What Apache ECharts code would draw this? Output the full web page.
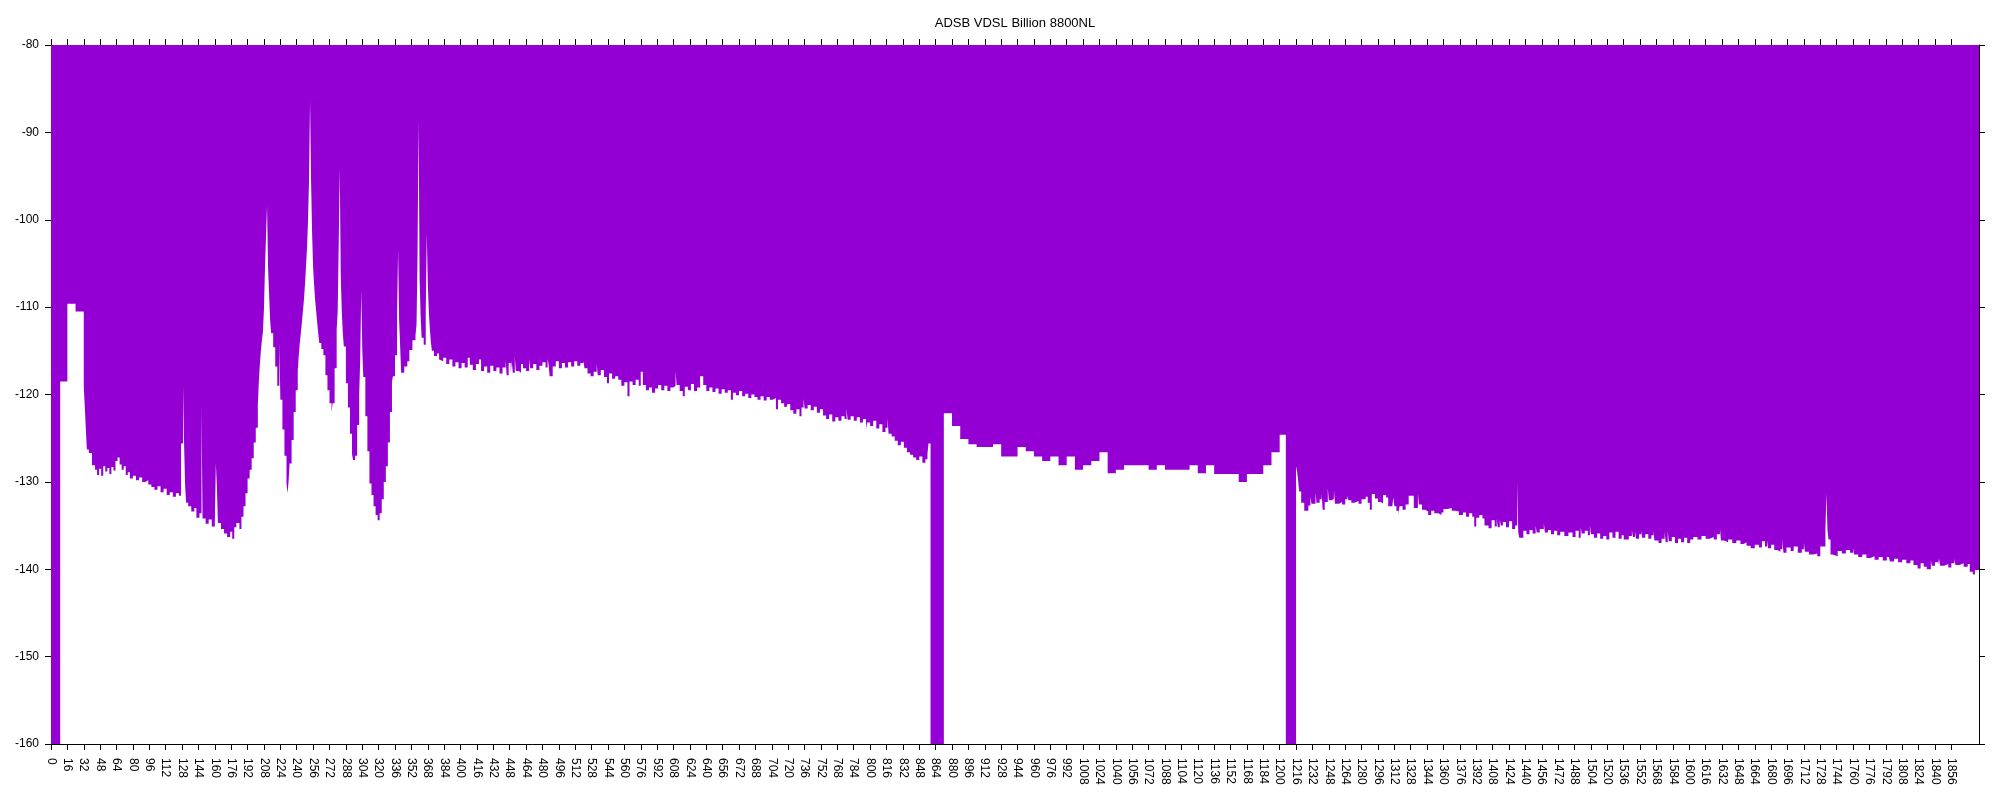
<!DOCTYPE html>
<html>
<head>
<meta charset="utf-8">
<script src="https://cdn.jsdelivr.net/npm/echarts@6/dist/echarts.min.js"></script>
<style>
html,body{margin:0;padding:0;background:#fff;}
#chart{width:2000px;height:800px;}
</style>
</head>
<body>
<div id="chart"></div>
<script>
// ---- Data: [tone bin where the level starts, level in dB] ----
const chartTitle = 'ADSB VDSL Billion 8800NL';

const lowBand = [
 [0,-160],[9,-118.5],[16,-109.6],[24,-110.5],[32,-119.1],[33,-121.4],[34,-123.9],[35,-126.3],[37,-126.7],[40,-128.1],
 [43,-128.6],[45,-129.2],[47,-128.5],[49,-129.3],[51,-128.2],[53,-128.8],[55,-128.4],[57,-129.1],[59,-128.3],[61,-128.7],
 [63,-127.6],[65,-127.2],[67,-128.0],[69,-128.6],[71,-128.2],[73,-129.2],[75,-128.9],[77,-129.6],[80,-129.3],[83,-129.8],
 [86,-129.5],[89,-130.0],[92,-129.8],[95,-130.3],[98,-130.6],[101,-130.9],[104,-130.5],[107,-131.2],[110,-130.8],[113,-131.5],
 [116,-131.2],[119,-131.7],[122,-131.3],[125,-131.6],[127,-125.6],[129,-119.1],[130,-125.8],[131,-130.5],[132,-132.4],[134,-132.8],
 [137,-133.4],[140,-133.0],[142,-134.1],[145,-133.6],[147,-121.4],[148,-134.2],[151,-134.8],[154,-134.3],[157,-135.1],[160,-134.8],
 [161,-127.9],[162,-130.5],[163,-134.7],[166,-135.4],[169,-135.9],[172,-136.3],[175,-135.7],[177,-136.5],[179,-135.2],[181,-134.7],
 [184,-135.4],[186,-134.0],[188,-132.8],[190,-131.3],[192,-129.6],[194,-128.6],[196,-127.3],[198,-125.5],[200,-123.8],[202,-121.2],
 [203,-118.5],[204,-116.5],[205,-115.0],[206,-113.8],[207,-112.8],[208,-110.2],[209,-105.5],[210,-101.9],[211,-98.4],[212,-105.5],
 [213,-108.5],[214,-111.5],[215,-113.0],[217,-114.6],[219,-116.8],[221,-119.0],[223,-113.9],[224,-120.6],[226,-124.0],[228,-127.0],
 [230,-130.2],[231,-131.3],[232,-130.0],[233,-127.9],[235,-125.2],[237,-122.0],[239,-119.5],[241,-117.3],[242,-115.5],[243,-114.1],
 [244,-113.0],[245,-111.8],[246,-110.5],[247,-109.2],[248,-107.5],[249,-105.5],[250,-103.3],[251,-100.2],[252,-95.6],[253,-86.4],
 [254,-95.6],[255,-101.5],[256,-105.5],[257,-107.5],[258,-109.2],[259,-110.5],[260,-111.8],[261,-113.0],[262,-114.1],[264,-114.8],
 [266,-115.5],[268,-117.8],[270,-119.5],[272,-121.0],[274,-122.1],[275,-121.0],[277,-117.0],[279,-112.6],[280,-110.5],[281,-102.9],
 [282,-94.2],[283,-106.5],[284,-110.5],[285,-113.0],[286,-114.5],[288,-118.7],[290,-121.5],[292,-124.5],[294,-126.8],[295,-127.5],
 [297,-127.0],[299,-123.5],[301,-120.0],[302,-116.0],[303,-108.1],[304,-114.9],[305,-118.0],[307,-122.5],[309,-126.5],[311,-130.2],
 [313,-131.5],[315,-132.8],[317,-133.8],[319,-134.4],[321,-133.6],[323,-132.0],[325,-130.0],[327,-128.2],[329,-125.5],[331,-122.0],
 [333,-118.5],[334,-117.9],[336,-115.5],[338,-111.1],[339,-103.5],[340,-111.5],[341,-114.5],[342,-117.5],[345,-116.8],[348,-116.2],
 [350,-114.9],[353,-113.8],[356,-113.2],[357,-112.0],[358,-104.0],[359,-88.7],[360,-106.7],[361,-111.0],[362,-113.5],[364,-114.3],
 [366,-110.5],[367,-101.6],[368,-107.3],[369,-110.5],[370,-112.5],[371,-114.0],[372,-115.0],[374,-115.6],[377,-115.3],[379,-116.0]
];

const midBand = [
 [380,-116.2],[383,-115.8],[386,-116.5],[389,-116.0],[392,-116.8],[395,-116.3],[398,-117.0],[401,-116.4],[404,-116.9],[407,-115.8],
 [409,-116.6],[412,-117.2],[415,-116.5],[418,-116.0],[420,-117.3],[423,-116.8],[426,-117.5],[429,-116.7],[432,-117.3],[435,-116.9],
 [438,-117.6],[441,-116.9],[444,-116.0],[445,-117.8],[447,-116.4],[449,-117.6],[450,-116.2],[451,-117.5],[453,-115.7],[454,-117.3],
 [457,-117.5],[459,-116.5],[461,-117.0],[464,-117.3],[467,-115.9],[468,-117.0],[471,-116.5],[474,-117.2],[477,-116.7],[480,-116.3],
 [483,-116.9],[485,-115.9],[486,-116.6],[487,-117.9],[490,-116.8],[493,-116.2],[496,-117.0],[499,-116.4],[502,-116.9],[505,-116.3],
 [508,-116.8],[511,-116.2],[514,-116.7],[517,-116.4],[520,-116.1],[521,-117.0],[524,-117.6],[527,-117.9],[530,-117.4],[533,-116.5],
 [534,-117.8],[537,-117.2],[540,-118.0],[543,-118.7],[545,-117.6],[548,-118.2],[551,-117.9],[554,-118.3],[557,-119.0],[560,-118.6],
 [563,-120.2],[565,-118.5],[568,-118.9],[571,-118.3],[574,-119.0],[576,-117.4],[578,-118.9],[581,-119.5],[584,-119.2],[587,-119.8],
 [590,-119.3],[593,-118.9],[596,-119.5],[599,-119.0],[602,-119.6],[605,-119.2],[608,-119.0],[610,-117.4],[611,-118.9],[614,-119.6],
 [617,-120.2],[619,-119.1],[622,-119.5],[625,-118.8],[628,-119.6],[631,-119.2],[634,-117.9],[637,-118.9],[640,-119.6],[643,-119.2],
 [646,-119.7],[649,-119.3],[652,-119.9],[655,-119.4],[658,-119.8],[661,-119.5],[664,-120.6],[666,-119.8],[669,-120.1],[672,-119.6],
 [675,-120.2],[678,-119.9],[681,-120.4],[684,-120.0],[687,-120.3],[690,-120.6],[693,-120.2],[696,-120.7],[699,-120.3],[702,-120.6],
 [705,-120.4],[708,-121.7],[710,-120.6],[713,-121.0],[716,-121.4],[719,-121.1],[722,-121.8],[725,-122.2],[728,-121.7],[731,-122.5],
 [733,-121.5],[735,-120.5],[736,-121.6],[739,-121.2],[742,-121.8],[745,-121.4],[748,-122.1],[751,-121.7],[754,-122.4],[757,-122.8],
 [760,-122.3],[763,-123.1],[766,-122.6],[769,-123.0],[772,-122.5],[775,-122.8],[777,-121.7],[778,-122.9],[781,-122.5],[784,-123.0],
 [787,-122.6],[790,-123.2],[793,-122.8],[796,-124.0],[797,-123.2],[800,-123.6],[803,-123.0],[806,-123.9],[809,-123.4],[812,-124.3],
 [815,-123.8],[817,-122.7],[818,-124.5],[821,-124.8],[824,-125.3],[827,-125.8],[830,-125.4],[833,-126.1],[836,-126.6],[839,-126.9],
 [842,-127.2],[845,-127.5],[848,-127.1],[851,-127.8],[854,-127.4],[856,-126.8],[857,-125.6]
];

const stepBand = [
 [859,-160],[872,-122.15],[880,-123.6],[888,-125.1],[896,-125.7],[904,-126.0],[920,-125.7],[928,-127.1],[944,-126.0],[952,-126.5],
 [960,-127.1],[968,-127.6],[976,-127.1],[984,-128.1],[992,-127.1],[1000,-128.6],[1008,-128.1],[1016,-127.6],[1024,-126.6],[1032,-129.0],
 [1040,-128.6],[1048,-128.1],[1072,-128.6],[1080,-128.1],[1088,-128.6],[1112,-128.1],[1120,-129.0],[1128,-128.1],[1136,-129.1],[1160,-130.0],
 [1168,-129.1],[1184,-128.1],[1192,-126.6],[1200,-124.6],[1206,-160]
];

const highBand = [
 [1216,-128.2],[1217,-128.8],[1218,-129.8],[1219,-131.1],[1221,-132.4],[1224,-133.3],[1228,-132.7],[1230,-131.7],[1231,-132.5],[1235,-131.3],
 [1236,-132.4],[1239,-132.0],[1241,-131.3],[1242,-133.2],[1244,-132.3],[1247,-130.7],[1248,-132.1],[1251,-131.9],[1253,-130.9],[1254,-132.5],
 [1258,-132.3],[1261,-132.6],[1264,-132.0],[1266,-131.6],[1267,-132.1],[1270,-132.4],[1273,-132.2],[1277,-132.5],[1280,-132.0],[1284,-131.7],
 [1286,-132.4],[1288,-133.2],[1290,-131.4],[1293,-131.9],[1296,-132.3],[1299,-132.5],[1301,-131.5],[1304,-131.8],[1306,-132.8],[1310,-132.6],
 [1311,-131.8],[1312,-132.8],[1314,-133.3],[1316,-133.8],[1317,-132.8],[1320,-133.2],[1323,-132.6],[1326,-131.6],[1331,-133.0],[1335,-131.3],
 [1336,-132.6],[1339,-133.2],[1342,-133.4],[1345,-133.8],[1348,-133.3],[1351,-133.6],[1355,-133.8],[1358,-133.5],[1360,-133.1],[1364,-133.0],
 [1368,-133.3],[1372,-133.4],[1375,-133.8],[1379,-133.5],[1382,-134.0],[1385,-133.6],[1388,-134.0],[1390,-135.1],[1392,-134.1],[1395,-133.8],
 [1398,-134.2],[1400,-135.0],[1404,-135.3],[1407,-134.4],[1410,-135.1],[1412,-134.2],[1413,-135.2],[1415,-134.3],[1416,-135.0],[1418,-134.6],
 [1421,-135.2],[1424,-134.5],[1427,-135.4],[1430,-135.0],[1432,-130.0],[1433,-135.8],[1434,-136.4],[1438,-135.6],[1441,-136.0],[1444,-135.5],
 [1447,-135.9],[1450,-135.0],[1451,-135.8],[1454,-135.4],[1458,-134.7],[1459,-135.8],[1462,-135.5],[1465,-136.0],[1468,-135.6],[1471,-136.1],
 [1474,-135.7],[1478,-136.2],[1482,-135.8],[1486,-136.3],[1489,-135.6],[1492,-136.4],[1494,-135.2],[1495,-135.9],[1498,-135.6],[1501,-136.1],
 [1503,-135.0],[1504,-136.0],[1507,-136.4],[1510,-135.9],[1513,-136.5],[1516,-136.2],[1519,-136.6],[1522,-135.8],[1525,-136.4],[1528,-135.7],
 [1531,-136.5],[1534,-136.1],[1536,-136.6],[1541,-136.2],[1544,-135.5],[1545,-136.3],[1547,-135.6],[1548,-136.5],[1551,-136.0]
];

const topBand = [
 [1553,-135.6],[1554,-136.4],[1557,-136.0],[1560,-136.5],[1563,-136.1],[1565,-135.6],[1566,-136.7],[1570,-137.0],[1573,-136.5],[1576,-135.7],
 [1577,-136.9],[1579,-135.6],[1580,-136.8],[1583,-136.3],[1586,-137.0],[1589,-136.5],[1592,-136.9],[1595,-136.4],[1598,-137.0],[1601,-136.6],
 [1604,-136.3],[1608,-136.6],[1612,-136.2],[1616,-136.5],[1620,-136.3],[1624,-136.6],[1627,-136.0],[1630,-135.3],[1631,-136.7],[1634,-136.9],
 [1638,-136.6],[1642,-137.0],[1646,-136.7],[1650,-137.1],[1653,-136.9],[1656,-137.3],[1660,-137.6],[1664,-137.2],[1668,-137.5],[1671,-136.8],
 [1674,-137.4],[1676,-136.7],[1677,-137.6],[1680,-137.2],[1683,-137.8],[1686,-138.0],[1689,-137.7],[1691,-136.6],[1692,-138.1],[1695,-137.5],
 [1699,-137.9],[1702,-137.4],[1706,-138.1],[1710,-137.7],[1712,-137.0],[1713,-138.0],[1717,-138.3],[1721,-138.2],[1725,-138.5],[1728,-137.4],
 [1733,-135.5],[1734,-131.4],[1735,-135.5],[1736,-136.6],[1738,-138.3],[1740,-138.5],[1745,-137.9],[1749,-138.2],[1753,-137.8],[1757,-138.1],
 [1760,-137.6],[1761,-138.3],[1765,-138.6],[1769,-138.3],[1773,-138.7],[1777,-138.5],[1781,-138.9],[1785,-138.6],[1789,-139.0],[1793,-138.6],
 [1795,-138.4],[1796,-139.1],[1800,-138.8],[1804,-139.2],[1808,-138.9],[1812,-139.3],[1816,-139.0],[1819,-139.5],[1823,-139.9],[1826,-139.3],
 [1829,-139.7],[1832,-140.0],[1836,-139.0],[1837,-139.6],[1840,-139.2],[1843,-139.5],[1844,-138.8],[1845,-139.6],[1849,-139.4],[1853,-139.8],
 [1856,-139.3],[1859,-138.8],[1860,-139.5],[1864,-139.3],[1868,-139.7],[1872,-139.4],[1874,-140.3],[1877,-140.6],[1879,-140.1],[1883,-140.1]
];

// axis settings
const xMin = 0, xMax = 1883, xTickStep = 16, xTickLast = 1856;
const yMin = -160, yMax = -80, yTickStep = 10;

const xTicks = [];
for (let v = xMin; v <= xTickLast; v += xTickStep) xTicks.push(v);

const points = [].concat(lowBand, midBand, stepBand, highBand, topBand);

const FONT = 'Liberation Sans, Arial, sans-serif';
const PURPLE = '#9400d3';

const chart = echarts.init(document.getElementById('chart'), null, {renderer: 'canvas'});

const axisLineStyle = {show: true, onZero: false, lineStyle: {color: '#000', width: 1}};
const tickStyle = {show: true, inside: false, length: 6, lineStyle: {color: '#000', width: 1}};
const plainNumber = function (v) { return String(v); };

chart.setOption({
  animation: false,
  backgroundColor: '#fff',
  grid: {left: 51, right: 21, top: 45, bottom: 56, containLabel: false},
  graphic: [{
    type: 'text', x: 1015, y: 23.5,
    style: {text: chartTitle, align: 'center', verticalAlign: 'middle', fontSize: 13, fontFamily: FONT, fill: '#000'}
  }],
  xAxis: [
    {
      type: 'value', position: 'bottom', min: xMin, max: xMax,
      axisLine: axisLineStyle,
      axisTick: Object.assign({customValues: xTicks}, tickStyle),
      axisLabel: {customValues: xTicks, rotate: -90, fontSize: 12, fontFamily: FONT, color: '#000', margin: 14, formatter: plainNumber},
      splitLine: {show: false}
    },
    {
      type: 'value', position: 'top', min: xMin, max: xMax,
      axisLine: axisLineStyle,
      axisTick: Object.assign({customValues: xTicks}, tickStyle),
      axisLabel: {show: false},
      splitLine: {show: false}
    }
  ],
  yAxis: [
    {
      type: 'value', position: 'left', min: yMin, max: yMax, interval: yTickStep,
      axisLine: axisLineStyle, axisTick: tickStyle,
      axisLabel: {fontSize: 12, fontFamily: FONT, color: '#000', margin: 12, formatter: plainNumber},
      splitLine: {show: false}
    },
    {
      type: 'value', position: 'right', min: yMin, max: yMax, interval: yTickStep,
      axisLine: axisLineStyle, axisTick: tickStyle,
      axisLabel: {show: false},
      splitLine: {show: false}
    }
  ],
  series: [{
    type: 'line',
    xAxisIndex: 0, yAxisIndex: 0,
    step: 'end',
    data: points,
    symbol: 'none',
    silent: true,
    clip: true,
    lineStyle: {color: PURPLE, width: 0},
    areaStyle: {color: PURPLE, opacity: 1, origin: 'end'},
    z: 1
  }]
});
</script>
</body>
</html>
